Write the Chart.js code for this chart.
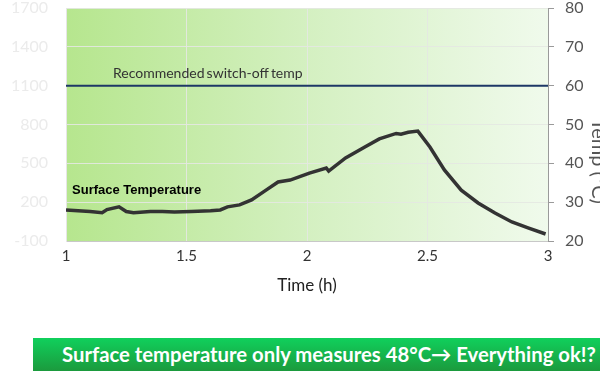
<!DOCTYPE html>
<html>
<head>
<meta charset="utf-8">
<script src="https://cdn.jsdelivr.net/npm/chart.js@4.4.1/dist/chart.umd.min.js"></script>
<style>
  html, body { margin: 0; padding: 0; background: #fff; }
  body { width: 600px; height: 371px; overflow: hidden; position: relative; }
  #wrap { position: absolute; left: 0; top: 0; width: 610px; height: 300px; }
  #banner {
    position: absolute; left: 33px; top: 338px; width: 567px; height: 33px;
    background: linear-gradient(to bottom, #10d05c, #1b9a3d);
    color: #fff; font-family: Lato, sans-serif; font-weight: bold; font-size: 20.3px;
    line-height: 33px; padding-left: 29px; box-sizing: border-box; white-space: nowrap;
  }
</style>
</head>
<body>
<div id="wrap"><canvas id="tempChart"></canvas></div>
<div id="banner">Surface temperature only measures 48°C→ Everything ok!?</div>
<script>
// time (h) and surface temperature (°C)
const hours = [1.00, 1.05, 1.10, 1.15, 1.17, 1.22, 1.25, 1.28, 1.35, 1.40, 1.45, 1.52, 1.60, 1.64,
  1.67, 1.72, 1.77, 1.83, 1.88, 1.93, 2.01, 2.08, 2.09, 2.16, 2.24, 2.30, 2.37, 2.39, 2.42, 2.46,
  2.51, 2.57, 2.64, 2.71, 2.78, 2.85, 2.92, 2.99];
const surfaceTemp = [28.0, 27.8, 27.6, 27.3, 28.1, 28.8, 27.6, 27.3, 27.6, 27.6, 27.5, 27.6, 27.8, 28.0,
  28.8, 29.3, 30.6, 33.1, 35.2, 35.7, 37.5, 38.8, 38.0, 41.4, 44.2, 46.3, 47.7, 47.5, 48.0, 48.3,
  44.2, 38.3, 33.1, 29.8, 27.2, 24.9, 23.3, 21.8];

// recommended switch-off temperature (°C)
const switchOffTemp = 60;
const switchOffHours = [1, 3];

// axis ranges
const timeRange = [1, 3];
const tempRange = [20, 80];
const leftRange = [-100, 1700];

// texts
const switchOffLabel = 'Recommended switch-off temp';
const surfaceLabel = 'Surface Temperature';
const tempTitle = 'Temp (°C)';

// Background gradient in the plot area
const bgPlugin = {
  id: 'bgPlugin',
  beforeDraw(chart) {
    const { ctx, chartArea: a } = chart;
    const g = ctx.createLinearGradient(a.left, a.top, a.right, a.top);
    g.addColorStop(0, '#b6e68e');
    g.addColorStop(0.5, '#d4f0c1');
    g.addColorStop(1, '#f0faec');
    ctx.save();
    ctx.fillStyle = g;
    ctx.fillRect(a.left, a.top, a.right - a.left, a.bottom - a.top);
    ctx.restore();
  }
};

// Text labels placed in data coordinates
const labelPlugin = {
  id: 'labelPlugin',
  afterDatasetsDraw(chart) {
    const { ctx, scales, chartArea } = chart;
    ctx.save();
    ctx.textBaseline = 'middle';
    ctx.fillStyle = '#333';
    ctx.font = '14px Lato';
    ctx.wordSpacing = '-1.5px';
    ctx.fillText(switchOffLabel, scales.x.getPixelForValue(1.195), scales.y.getPixelForValue(63.2));
    ctx.wordSpacing = '0px';
    ctx.fillStyle = '#000';
    ctx.font = 'bold 13px "Liberation Sans"';
    ctx.fillText(surfaceLabel, scales.x.getPixelForValue(1.025), scales.y.getPixelForValue(33.1));

    // right axis title, rotated and running off the edge like the original
    ctx.translate(chartArea.right + 50, scales.y.getPixelForValue(40.5));
    ctx.rotate(Math.PI / 2);
    ctx.textAlign = 'center';
    ctx.fillStyle = '#555';
    ctx.font = '20px Lato';
    ctx.fillText(tempTitle, 0, 0);
    ctx.restore();
  }
};

// keep the y axes from reserving room for half-labels at the top/bottom
function noVertPadding(scale) {
  scale.paddingTop = 0;
  scale.paddingBottom = 0;
}

const gridColor = 'rgba(228,232,226,0.9)';

new Chart(document.getElementById('tempChart'), {
  type: 'line',
  data: {
    datasets: [{
      label: surfaceLabel,
      data: hours.map((h, i) => ({ x: h, y: surfaceTemp[i] })),
      borderColor: '#333',
      borderWidth: 3.5,
      pointRadius: 0,
      yAxisID: 'y'
    }, {
      label: switchOffLabel,
      data: switchOffHours.map(h => ({ x: h, y: switchOffTemp })),
      borderColor: '#1d3766',
      borderWidth: 2,
      pointRadius: 0,
      yAxisID: 'y'
    }]
  },
  options: {
    responsive: true,
    maintainAspectRatio: false,
    animation: false,
    layout: { padding: { top: 8, left: 0, right: 0, bottom: 0 } },
    plugins: {
      legend: { display: false },
      tooltip: { enabled: false }
    },
    scales: {
      x: {
        type: 'linear',
        min: timeRange[0],
        max: timeRange[1],
        afterFit(scale) { scale.height = 59; },
        ticks: {
          stepSize: 0.5,
          color: '#333',
          font: { family: 'Lato', size: 15 },
          padding: 6,
          callback: v => String(v)
        },
        grid: { color: gridColor, drawTicks: false },
        border: { color: '#c8c8c8' },
        title: {
          display: true,
          text: 'Time (h)',
          color: '#222',
          font: { family: 'Lato', size: 17 },
          padding: { top: 2 }
        }
      },
      y1: {
        position: 'left',
        min: leftRange[0],
        max: leftRange[1],
        afterFit(scale) { scale.width = 66; noVertPadding(scale); },
        ticks: {
          stepSize: 300,
          color: '#ebebeb',
          font: { family: 'Lato', size: 16 },
          padding: 18,
          callback: v => String(v)
        },
        grid: { drawOnChartArea: false, drawTicks: false },
        border: { color: '#e6e6e6' }
      },
      y: {
        position: 'right',
        min: tempRange[0],
        max: tempRange[1],
        afterFit(scale) { scale.width = 62; noVertPadding(scale); },
        ticks: {
          stepSize: 10,
          color: '#555',
          font: { family: 'Lato', size: 16 },
          padding: 11
        },
        grid: { color: gridColor, tickColor: '#9a9a9a', tickLength: 6 },
        border: { color: '#9a9a9a' }
      }
    }
  },
  plugins: [bgPlugin, labelPlugin]
});
</script>
</body>
</html>
